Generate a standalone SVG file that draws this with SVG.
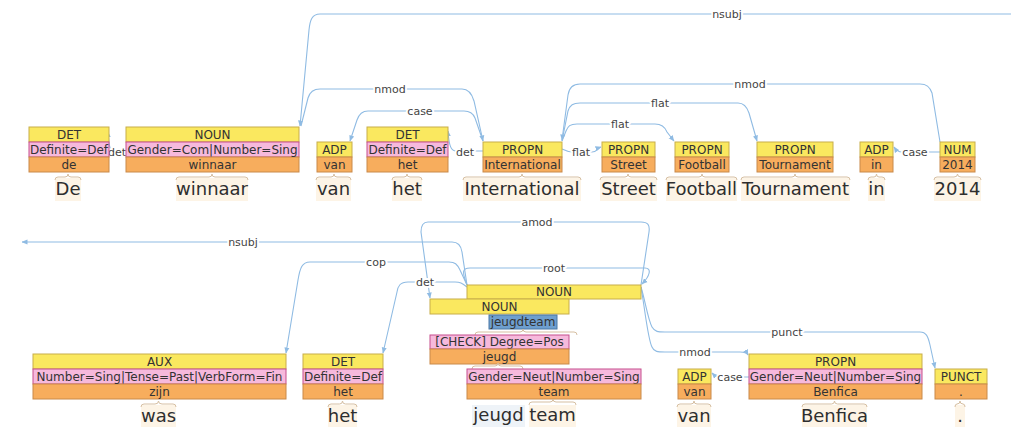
<svg xmlns="http://www.w3.org/2000/svg" width="1011" height="427" viewBox="0 0 1011 427">
  <style>
    .pos { fill: #fae85f; stroke: #c8ae4a; stroke-width: 1; }
    .feat { fill: #f6b9dc; stroke: #c64f8e; stroke-width: 1; }
    .lem { fill: #f7ad5d; stroke: #c98a4b; stroke-width: 1; }
    .tok { fill: #6e9fcf; stroke: #4b79a6; stroke-width: 1; }
    .bt { font-family: "DejaVu Sans", sans-serif; font-size: 12px; fill: #333; text-anchor: middle; }
    .wbg { fill: #fdf4e6; }
    .wbg2 { fill: #eef3f8; }
    .word { font-family: "DejaVu Sans", sans-serif; font-size: 18px; fill: #2e2e2e; text-anchor: middle; }
    .brace { fill: none; stroke: #d6bfa2; stroke-width: 1; }
    .arc { fill: none; stroke: #8fbbe3; stroke-width: 1.1; marker-end: url(#arr); }
    .arc0 { fill: none; stroke: #8fbbe3; stroke-width: 1.1; }
    .lbl { font-family: "DejaVu Sans", sans-serif; font-size: 11px; fill: #444; text-anchor: middle; stroke: #fff; stroke-width: 4; paint-order: stroke; stroke-linejoin: round; }
  </style>
  <defs>
    <marker id="arr" viewBox="0 0 6 6" refX="5.5" refY="3" markerWidth="6" markerHeight="6" markerUnits="userSpaceOnUse" orient="auto">
      <path d="M0,0.5 L6,3 L0,5.5 z" fill="#8fbbe3"/>
    </marker>
  </defs>
  <rect width="1011" height="427" fill="#fff"/>

  <!-- dependency arcs -->
  <g id="connectors">
    <!-- first sentence -->
    <path class="arc" d="M1011,14 H320 C312,14 310,20 309,30 L300,126"/>
    <path class="arc" d="M301,126 L308,98 C310,91 314,89 320,89 H462 C469,89 472,94 474,101 L483,141"/>
    <path class="arc" d="M483,141 L475,118 C473,113 470,111 464,111 H368 C362,111 359,114 357,120 L350,141"/>
    <path class="arc" d="M483,151 H456 C451,151 449,146 448,131"/>
    <path class="arc" d="M126,151 H113 C110,151 109,146 108,132"/>
    <path class="arc" d="M562,149 C566,151 568,152 573,152 H592 C597,152 598,148 601,147"/>
    <path class="arc" d="M562,141 L566,131 C568,126 570,124 577,124 H655 C662,124 665,127 667,132 L674,141"/>
    <path class="arc" d="M562,141 L568,111 C570,105 573,103 580,103 H738 C744,103 747,107 749,113 L757,141"/>
    <path class="arc" d="M940,142 L932,93 C930,87 927,84 920,84 H580 C572,84 569,88 568,95 L562,140"/>
    <path class="arc" d="M940,152 H902 C898,152 896,150 894,147"/>
    <text class="lbl" x="727" y="18">nsubj</text>
    <text class="lbl" x="390" y="93">nmod</text>
    <text class="lbl" x="420" y="115">case</text>
    <text class="lbl" x="465" y="156">det</text>
    <text class="lbl" x="117" y="156">det</text>
    <text class="lbl" x="581" y="156">flat</text>
    <text class="lbl" x="620" y="128">flat</text>
    <text class="lbl" x="660" y="107">flat</text>
    <text class="lbl" x="750" y="88">nmod</text>
    <text class="lbl" x="915" y="156">case</text>

    <!-- second sentence -->
    <path class="arc" d="M467,285 L462,252 C461,245 458,242 452,242 H22"/>
    <path class="arc" d="M467,285 L460,270 C457,264 455,262 449,262 H310 C302,262 300,268 298,280 L286,353"/>
    <path class="arc" d="M467,287 C462,283 460,282 455,282 H408 C400,282 398,286 397,292 L383,353"/>
    <path class="arc" d="M641,285 L649,232 C650,225 648,222 641,222 H428 C423,222 421,225 421,232 L430,298"/>
    <path class="arc" d="M467,285 C462,272 462,268 470,268 H645 C652,268 650,276 642,284"/>
    <path class="arc" d="M641,287 C645,300 648,320 652,327 C655,332 658,332 665,332 H920 C926,332 928,336 930,345 L935,368"/>
    <path class="arc" d="M641,287 C645,310 648,340 652,347 C654,352 658,352 665,352 H740 C745,352 747,353 748,355"/>
    <path class="arc" d="M749,377 H720 C716,377 714,375 712,373"/>
    <text class="lbl" x="243" y="246">nsubj</text>
    <text class="lbl" x="376" y="266">cop</text>
    <text class="lbl" x="425" y="286">det</text>
    <text class="lbl" x="537" y="226">amod</text>
    <text class="lbl" x="554" y="272">root</text>
    <text class="lbl" x="787" y="336">punct</text>
    <text class="lbl" x="695" y="356">nmod</text>
    <text class="lbl" x="730" y="381">case</text>
  </g>

  <!-- first sentence tokens -->
  <g id="node-de">
    <rect class="pos" x="29" y="127" width="80" height="15"/>
    <rect class="feat" x="29" y="142" width="80" height="15"/>
    <rect class="lem" x="29" y="157" width="80" height="15"/>
    <text class="bt" x="69" y="139">DET</text>
    <text class="bt" x="69" y="154">Definite=Def</text>
    <text class="bt" x="69" y="169">de</text>
    <rect class="wbg" x="55" y="178" width="26" height="23"/>
    <path class="brace" d="M55,180 Q55,177 58,177 H65 Q68,177 68,174 Q68,177 71,177 H78 Q81,177 81,180"/>
    <text class="word" x="68" y="195">De</text>
  </g>
  <g id="node-winnaar">
    <rect class="pos" x="126" y="127" width="173" height="15"/>
    <rect class="feat" x="126" y="142" width="173" height="15"/>
    <rect class="lem" x="126" y="157" width="173" height="15"/>
    <text class="bt" x="212.5" y="139">NOUN</text>
    <text class="bt" x="212.5" y="154">Gender=Com|Number=Sing</text>
    <text class="bt" x="212.5" y="169">winnaar</text>
    <rect class="wbg" x="176" y="178" width="72" height="23"/>
    <path class="brace" d="M176,180 Q176,177 179,177 H209 Q212,177 212,174 Q212,177 215,177 H245 Q248,177 248,180"/>
    <text class="word" x="212" y="195">winnaar</text>
  </g>
  <g id="node-van1">
    <rect class="pos" x="317" y="142" width="35" height="15"/>
    <rect class="lem" x="317" y="157" width="35" height="15"/>
    <text class="bt" x="334.5" y="154">ADP</text>
    <text class="bt" x="334.5" y="169">van</text>
    <rect class="wbg" x="316" y="178" width="35" height="23"/>
    <path class="brace" d="M316,180 Q316,177 319,177 H331 Q334,177 334,174 Q334,177 337,177 H348 Q351,177 351,180"/>
    <text class="word" x="333.5" y="195">van</text>
  </g>
  <g id="node-het1">
    <rect class="pos" x="367" y="127" width="81" height="15"/>
    <rect class="feat" x="367" y="142" width="81" height="15"/>
    <rect class="lem" x="367" y="157" width="81" height="15"/>
    <text class="bt" x="407.5" y="139">DET</text>
    <text class="bt" x="407.5" y="154">Definite=Def</text>
    <text class="bt" x="407.5" y="169">het</text>
    <rect class="wbg" x="392" y="178" width="30" height="23"/>
    <path class="brace" d="M392,180 Q392,177 395,177 H404 Q407,177 407,174 Q407,177 410,177 H419 Q422,177 422,180"/>
    <text class="word" x="407" y="195">het</text>
  </g>
  <g id="node-international">
    <rect class="pos" x="483" y="142" width="79" height="15"/>
    <rect class="lem" x="483" y="157" width="79" height="15"/>
    <text class="bt" x="522.5" y="154">PROPN</text>
    <text class="bt" x="522.5" y="169">International</text>
    <rect class="wbg" x="463" y="178" width="118" height="23"/>
    <path class="brace" d="M463,180 Q463,177 466,177 H519 Q522,177 522,174 Q522,177 525,177 H578 Q581,177 581,180"/>
    <text class="word" x="522" y="195">International</text>
  </g>
  <g id="node-street">
    <rect class="pos" x="602" y="142" width="53" height="15"/>
    <rect class="lem" x="602" y="157" width="53" height="15"/>
    <text class="bt" x="628.5" y="154">PROPN</text>
    <text class="bt" x="628.5" y="169">Street</text>
    <rect class="wbg" x="600" y="178" width="57" height="23"/>
    <path class="brace" d="M600,180 Q600,177 603,177 H625 Q628,177 628,174 Q628,177 631,177 H654 Q657,177 657,180"/>
    <text class="word" x="628.5" y="195">Street</text>
  </g>
  <g id="node-football">
    <rect class="pos" x="675" y="142" width="54" height="15"/>
    <rect class="lem" x="675" y="157" width="54" height="15"/>
    <text class="bt" x="702" y="154">PROPN</text>
    <text class="bt" x="702" y="169">Football</text>
    <rect class="wbg" x="666" y="178" width="71" height="23"/>
    <path class="brace" d="M666,180 Q666,177 669,177 H699 Q702,177 702,174 Q702,177 705,177 H734 Q737,177 737,180"/>
    <text class="word" x="701.5" y="195">Football</text>
  </g>
  <g id="node-tournament">
    <rect class="pos" x="757" y="142" width="76" height="15"/>
    <rect class="lem" x="757" y="157" width="76" height="15"/>
    <text class="bt" x="795" y="154">PROPN</text>
    <text class="bt" x="795" y="169">Tournament</text>
    <rect class="wbg" x="741" y="178" width="109" height="23"/>
    <path class="brace" d="M741,180 Q741,177 744,177 H792 Q795,177 795,174 Q795,177 798,177 H847 Q850,177 850,180"/>
    <text class="word" x="795.5" y="195">Tournament</text>
  </g>
  <g id="node-in">
    <rect class="pos" x="860" y="142" width="33" height="15"/>
    <rect class="lem" x="860" y="157" width="33" height="15"/>
    <text class="bt" x="876.5" y="154">ADP</text>
    <text class="bt" x="876.5" y="169">in</text>
    <rect class="wbg" x="868" y="178" width="17" height="23"/>
    <path class="brace" d="M868,180 Q868,177 871,177 H874 Q876.5,177 876.5,174 Q876.5,177 879,177 H882 Q885,177 885,180"/>
    <text class="word" x="876.5" y="195">in</text>
  </g>
  <g id="node-2014">
    <rect class="pos" x="940" y="142" width="35" height="15"/>
    <rect class="lem" x="940" y="157" width="35" height="15"/>
    <text class="bt" x="957.5" y="154">NUM</text>
    <text class="bt" x="957.5" y="169">2014</text>
    <rect class="wbg" x="934" y="178" width="47" height="23"/>
    <path class="brace" d="M934,180 Q934,177 937,177 H954 Q957.5,177 957.5,174 Q957.5,177 961,177 H978 Q981,177 981,180"/>
    <text class="word" x="957.5" y="195">2014</text>
  </g>

  <!-- second sentence tokens -->
  <g id="node-was">
    <rect class="pos" x="33" y="354" width="253" height="15"/>
    <rect class="feat" x="33" y="369" width="253" height="15"/>
    <rect class="lem" x="33" y="384" width="253" height="15"/>
    <text class="bt" x="159.5" y="366">AUX</text>
    <text class="bt" x="159.5" y="381">Number=Sing|Tense=Past|VerbForm=Fin</text>
    <text class="bt" x="159.5" y="396">zijn</text>
    <rect class="wbg" x="141" y="405" width="35" height="22"/>
    <path class="brace" d="M141,407 Q141,404 144,404 H155 Q158.5,404 158.5,401 Q158.5,404 162,404 H173 Q176,404 176,407"/>
    <text class="word" x="158.5" y="422">was</text>
  </g>
  <g id="node-het2">
    <rect class="pos" x="303" y="354" width="80" height="15"/>
    <rect class="feat" x="303" y="369" width="80" height="15"/>
    <rect class="lem" x="303" y="384" width="80" height="15"/>
    <text class="bt" x="343" y="366">DET</text>
    <text class="bt" x="343" y="381">Definite=Def</text>
    <text class="bt" x="343" y="396">het</text>
    <rect class="wbg" x="328" y="405" width="29" height="22"/>
    <path class="brace" d="M328,407 Q328,404 331,404 H339.5 Q342.5,404 342.5,401 Q342.5,404 345.5,404 H354 Q357,404 357,407"/>
    <text class="word" x="342.5" y="422">het</text>
  </g>
  <g id="node-jeugdteam">
    <rect class="pos" x="467" y="285" width="174" height="14"/>
    <text class="bt" x="554" y="296">NOUN</text>
    <rect class="pos" x="430" y="299" width="139" height="15"/>
    <text class="bt" x="499.5" y="311">NOUN</text>
    <rect class="tok" x="489" y="315" width="68" height="14"/>
    <text class="bt" x="523" y="326">jeugdteam</text>
    <path class="brace" d="M475,335 Q475,332 478,332 H520 Q523,332 523,329 Q523,332 526,332 H574 Q577,332 577,335"/>
    <rect class="feat" x="430" y="335" width="139" height="14"/>
    <text class="bt" x="499.5" y="346">[CHECK] Degree=Pos</text>
    <rect class="lem" x="430" y="349" width="139" height="15"/>
    <text class="bt" x="499.5" y="361">jeugd</text>
    <path class="brace" d="M472,369 Q472,366 475,366 H495 Q498,366 498,363 Q498,366 501,366 H520 Q523,366 523,369"/>
    <rect class="feat" x="467" y="369" width="174" height="15"/>
    <text class="bt" x="554" y="381">Gender=Neut|Number=Sing</text>
    <rect class="lem" x="467" y="384" width="174" height="15"/>
    <text class="bt" x="554" y="396">team</text>
    <rect class="wbg2" x="472" y="405" width="53" height="22"/>
    <text class="word" x="498.5" y="421">jeugd</text>
    <rect class="wbg" x="529" y="405" width="47" height="22"/>
    <path class="brace" d="M529,405 Q529,402 532,402 H550 Q553,402 553,399 Q553,402 556,402 H573 Q576,402 576,405"/>
    <text class="word" x="552.5" y="421">team</text>
  </g>
  <g id="node-van2">
    <rect class="pos" x="678" y="369" width="33" height="15"/>
    <rect class="lem" x="678" y="384" width="33" height="15"/>
    <text class="bt" x="694.5" y="381">ADP</text>
    <text class="bt" x="694.5" y="396">van</text>
    <rect class="wbg" x="677" y="405" width="34" height="22"/>
    <path class="brace" d="M677,407 Q677,404 680,404 H691 Q694,404 694,401 Q694,404 697,404 H708 Q711,404 711,407"/>
    <text class="word" x="694" y="422">van</text>
  </g>
  <g id="node-benfica">
    <rect class="pos" x="749" y="354" width="173" height="15"/>
    <rect class="feat" x="749" y="369" width="173" height="15"/>
    <rect class="lem" x="749" y="384" width="173" height="15"/>
    <text class="bt" x="835.5" y="366">PROPN</text>
    <text class="bt" x="835.5" y="381">Gender=Neut|Number=Sing</text>
    <text class="bt" x="835.5" y="396">Benfica</text>
    <rect class="wbg" x="802" y="405" width="65" height="22"/>
    <path class="brace" d="M802,407 Q802,404 805,404 H831.5 Q834.5,404 834.5,401 Q834.5,404 837.5,404 H864 Q867,404 867,407"/>
    <text class="word" x="834.5" y="422">Benfica</text>
  </g>
  <g id="node-punct">
    <rect class="pos" x="935" y="369" width="52" height="15"/>
    <rect class="lem" x="935" y="384" width="52" height="15"/>
    <text class="bt" x="961" y="381">PUNCT</text>
    <text class="bt" x="961" y="396">.</text>
    <rect class="wbg" x="955" y="405" width="10" height="22"/>
    <path class="brace" d="M955,407 Q955,404 957,404 Q960,404 960,401 Q960,404 963,404 Q965,404 965,407"/>
    <text class="word" x="960" y="422">.</text>
  </g>
</svg>
